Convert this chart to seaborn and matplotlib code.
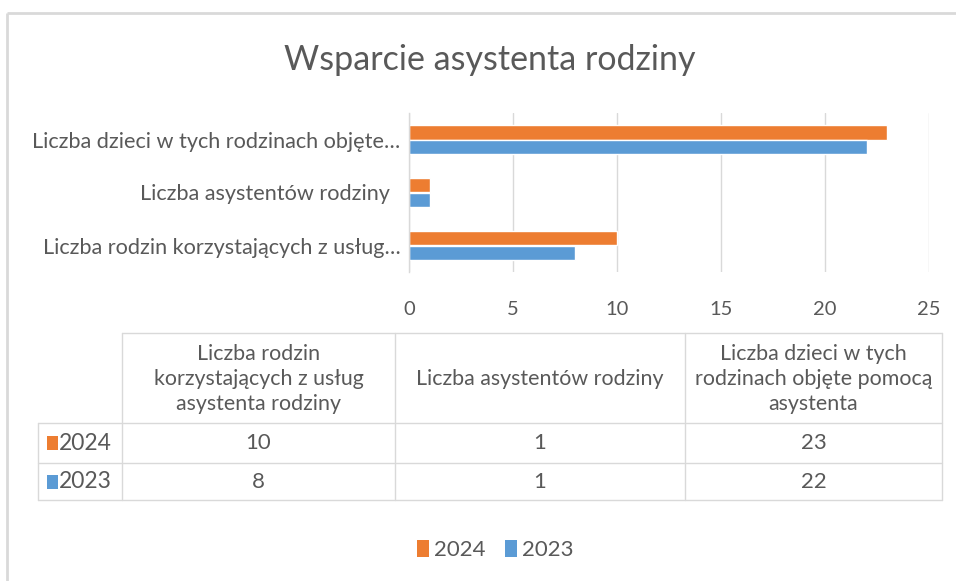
import matplotlib
matplotlib.use("Agg")
import matplotlib.pyplot as plt
import seaborn as sns
import pandas as pd
from matplotlib.patches import Patch, Rectangle

title = "Wsparcie asystenta rodziny"
categories = [
    "Liczba dzieci w tych rodzinach objęte pomocą asystenta",
    "Liczba asystentów rodziny",
    "Liczba rodzin korzystających z usług asystenta rodziny",
]
axis_labels = [
    "Liczba dzieci w tych rodzinach objęte…",
    "Liczba asystentów rodziny  ",
    "Liczba rodzin korzystających z usług…",
]
table_headers = [
    "Liczba dzieci w tych\nrodzinach objęte pomocą\nasystenta",
    "Liczba asystentów rodziny",
    "Liczba rodzin\nkorzystających z usług\nasystenta rodziny",
]
table_order = [2, 1, 0]  # table columns run in reverse of the bar order
series = ["2024", "2023"]
values_2024 = [23, 1, 10]
values_2023 = [22, 1, 8]
x_ticks = [0, 5, 10, 15, 20, 25]

colors = {"2024": "#ED7D31", "2023": "#5B9BD5"}
grey_text = "#595959"
grid_col = "#D9D9D9"

sns.set_theme(style="white")
plt.rcParams["font.family"] = ["Lato", "DejaVu Sans"]

df = pd.DataFrame({
    "cat": categories * 2,
    "val": values_2024 + values_2023,
    "year": ["2024"] * 3 + ["2023"] * 3,
})

W, H = 956, 581
fig = plt.figure(figsize=(W / 100, H / 100), dpi=100)

bg = fig.add_axes([0, 0, 1, 1])
bg.set_xlim(0, W)
bg.set_ylim(H, 0)
bg.axis("off")
bg.plot([7, 7], [13, H], color="#D9D9D9", lw=2, solid_capstyle="butt")
bg.plot([7, W], [13, 13], color="#D9D9D9", lw=2, solid_capstyle="butt")

bg.text(490, 60, title, ha="center", va="center", fontsize=24.5,
        color=grey_text)

ax = fig.add_axes([409 / W, 1 - 272 / H, 520 / W, 159 / H])
sns.barplot(data=df, y="cat", x="val", hue="year", hue_order=series,
            order=categories, palette=colors, orient="h", width=0.56,
            ax=ax, legend=False, saturation=1)
ax.set_xlim(0, 25)
ax.set_xticks(x_ticks)
ax.set_xticklabels([str(t) for t in x_ticks], fontsize=14.5, color=grey_text)
ax.set_yticks(range(len(categories)))
ax.set_yticklabels(axis_labels, fontsize=15.6, color=grey_text)
ax.set_xlabel("")
ax.set_ylabel("")
ax.grid(axis="x", color=grid_col, lw=1)
ax.set_axisbelow(True)
for s in ["top", "right", "bottom"]:
    ax.spines[s].set_visible(False)
ax.spines["left"].set_color(grid_col)
ax.spines["left"].set_linewidth(1)
ax.tick_params(axis="x", length=0, pad=21)
ax.tick_params(axis="y", length=0, pad=6)
ax.patch.set_alpha(0)

col_x = [38, 122, 395, 685, 942]
row_y = [333, 423, 463, 500]
lc = "#D9D9D9"
bg.plot([122, 942], [333, 333], color=lc, lw=1)
for y in row_y[1:]:
    bg.plot([38, 942], [y, y], color=lc, lw=1)
bg.plot([38, 38], [423, 500], color=lc, lw=1)
for x in col_x[1:]:
    bg.plot([x, x], [333, 500], color=lc, lw=1)

for j, ci in enumerate(table_order):
    cx = (col_x[j + 1] + col_x[j + 2]) / 2
    bg.text(cx, 379, table_headers[ci], ha="center", va="center",
            fontsize=15.4, color=grey_text, linespacing=1.3)

row_vals = {"2024": values_2024, "2023": values_2023}
for r, yr in enumerate(series):
    cy = (row_y[r + 1] + row_y[r + 2]) / 2
    bg.add_patch(Rectangle((47, cy - 7), 11, 14, color=colors[yr], lw=0))
    bg.text(59, cy, yr, ha="left", va="center", fontsize=16.5, color=grey_text)
    for j, ci in enumerate(table_order):
        cx = (col_x[j + 1] + col_x[j + 2]) / 2
        bg.text(cx, cy, str(row_vals[yr][ci]), ha="center", va="center",
                fontsize=16, color=grey_text)

handles = [Patch(facecolor=colors[s], edgecolor="none", label=s) for s in series]
fig.legend(handles=handles, loc="center", bbox_to_anchor=(495 / W, 1 - 550 / H),
           ncol=2, frameon=False, fontsize=16, handlelength=0.55,
           handleheight=0.8, handletextpad=0.2, columnspacing=0.9,
           labelcolor=grey_text)

fig.savefig("out.png", dpi=100)
